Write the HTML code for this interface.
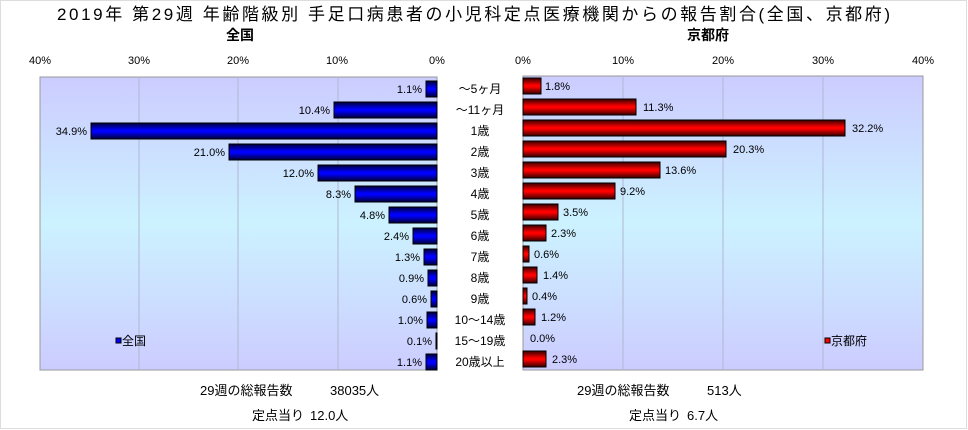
<!DOCTYPE html>
<html><head><meta charset="utf-8"><style>
html,body{margin:0;padding:0;background:#fff;}
svg{display:block;font-family:"Liberation Sans","Noto Sans CJK JP",sans-serif;}
</style></head><body>
<svg width="968" height="430" viewBox="0 0 968 430" xmlns="http://www.w3.org/2000/svg">
<defs>
<linearGradient id="bg" x1="0" y1="0" x2="0" y2="1">
<stop offset="0" stop-color="#ccccff"/><stop offset="0.5" stop-color="#ccf2ff"/><stop offset="1" stop-color="#ccccff"/>
</linearGradient>
<linearGradient id="bl" x1="0" y1="0" x2="0" y2="1">
<stop offset="0" stop-color="#000033"/><stop offset="0.45" stop-color="#0000ff"/><stop offset="0.55" stop-color="#0000ff"/><stop offset="1" stop-color="#000033"/>
</linearGradient>
<linearGradient id="rd" x1="0" y1="0" x2="0" y2="1">
<stop offset="0" stop-color="#330000"/><stop offset="0.45" stop-color="#ff0000"/><stop offset="0.55" stop-color="#ff0000"/><stop offset="1" stop-color="#330000"/>
</linearGradient>
</defs>
<rect x="0.5" y="0.5" width="966" height="428" fill="#fff" stroke="#ddd"/>
<text x="57" y="20" font-size="17" textLength="833" lengthAdjust="spacing">2019年 第29週 年齢階級別 手足口病患者の小児科定点医療機関からの報告割合(全国、京都府)</text>
<text x="240" y="40" font-size="14" text-anchor="middle" font-weight="bold">全国</text>
<text x="708" y="40" font-size="14" text-anchor="middle" font-weight="bold">京都府</text>
<g font-size="11" text-anchor="middle">
<text x="40" y="64">40%</text><text x="139" y="64">30%</text><text x="238" y="64">20%</text><text x="337" y="64">10%</text><text x="437" y="64">0%</text>
<text x="523" y="64">0%</text><text x="623" y="64">10%</text><text x="723" y="64">20%</text><text x="823" y="64">30%</text><text x="923" y="64">40%</text>
</g>
<rect x="40" y="77" width="397" height="293" fill="url(#bg)" stroke="#999"/>
<rect x="523" y="76" width="400" height="294" fill="url(#bg)" stroke="#999"/>
<g stroke="#b0b8d0" stroke-width="1">
<line x1="139" y1="77" x2="139" y2="370"/><line x1="238" y1="77" x2="238" y2="370"/><line x1="338" y1="77" x2="338" y2="370"/>
<line x1="623" y1="76" x2="623" y2="370"/><line x1="723" y1="76" x2="723" y2="370"/><line x1="823" y1="76" x2="823" y2="370"/>
</g>
<g font-size="12">
<rect x="116" y="338" width="5" height="5" fill="#00f" stroke="#000"/><text x="122" y="345">全国</text>
<rect x="825" y="338" width="5" height="5" fill="#f00" stroke="#000"/><text x="831" y="345">京都府</text>
</g>
<g font-size="13">
<text x="200" y="395">29週の総報告数</text><text x="330" y="395">38035人</text>
<text x="252" y="420">定点当り</text><text x="310" y="420">12.0人</text>
<text x="577" y="395">29週の総報告数</text><text x="707" y="395">513人</text>
<text x="629" y="420">定点当り</text><text x="687" y="420">6.7人</text>
</g>
<g font-size="12" text-anchor="middle">
<text x="480" y="93">～5ヶ月</text><text x="480" y="114">～11ヶ月</text><text x="480" y="135">1歳</text><text x="480" y="156">2歳</text><text x="480" y="177">3歳</text><text x="480" y="198">4歳</text><text x="480" y="219">5歳</text><text x="480" y="240">6歳</text><text x="480" y="261">7歳</text><text x="480" y="282">8歳</text><text x="480" y="303">9歳</text><text x="480" y="324">10～14歳</text><text x="480" y="345">15～19歳</text><text x="480" y="366">20歳以上</text>
</g>
<g font-size="11">
<rect x="426" y="81" width="11" height="16" fill="url(#bl)" stroke="#000"/><text x="422" y="93" text-anchor="end">1.1%</text>
<rect x="334" y="102" width="103" height="16" fill="url(#bl)" stroke="#000"/><text x="330" y="114" text-anchor="end">10.4%</text>
<rect x="91" y="123" width="346" height="16" fill="url(#bl)" stroke="#000"/><text x="87" y="135" text-anchor="end">34.9%</text>
<rect x="229" y="144" width="208" height="16" fill="url(#bl)" stroke="#000"/><text x="225" y="156" text-anchor="end">21.0%</text>
<rect x="318" y="165" width="119" height="16" fill="url(#bl)" stroke="#000"/><text x="314" y="177" text-anchor="end">12.0%</text>
<rect x="355" y="186" width="82" height="16" fill="url(#bl)" stroke="#000"/><text x="351" y="198" text-anchor="end">8.3%</text>
<rect x="389" y="207" width="48" height="16" fill="url(#bl)" stroke="#000"/><text x="385" y="219" text-anchor="end">4.8%</text>
<rect x="413" y="228" width="24" height="16" fill="url(#bl)" stroke="#000"/><text x="409" y="240" text-anchor="end">2.4%</text>
<rect x="424" y="249" width="13" height="16" fill="url(#bl)" stroke="#000"/><text x="420" y="261" text-anchor="end">1.3%</text>
<rect x="428" y="270" width="9" height="16" fill="url(#bl)" stroke="#000"/><text x="424" y="282" text-anchor="end">0.9%</text>
<rect x="431" y="291" width="6" height="16" fill="url(#bl)" stroke="#000"/><text x="427" y="303" text-anchor="end">0.6%</text>
<rect x="427" y="312" width="10" height="16" fill="url(#bl)" stroke="#000"/><text x="423" y="324" text-anchor="end">1.0%</text>
<rect x="436" y="333" width="1" height="16" fill="url(#bl)" stroke="#000"/><text x="432" y="345" text-anchor="end">0.1%</text>
<rect x="426" y="354" width="11" height="16" fill="url(#bl)" stroke="#000"/><text x="422" y="366" text-anchor="end">1.1%</text>

<rect x="523" y="78" width="18" height="16" fill="url(#rd)" stroke="#000"/><text x="545" y="90">1.8%</text>
<rect x="523" y="99" width="113" height="16" fill="url(#rd)" stroke="#000"/><text x="643" y="111">11.3%</text>
<rect x="523" y="120" width="322" height="16" fill="url(#rd)" stroke="#000"/><text x="852" y="132">32.2%</text>
<rect x="523" y="141" width="203" height="16" fill="url(#rd)" stroke="#000"/><text x="733" y="153">20.3%</text>
<rect x="523" y="162" width="137" height="16" fill="url(#rd)" stroke="#000"/><text x="665" y="174">13.6%</text>
<rect x="523" y="183" width="92" height="16" fill="url(#rd)" stroke="#000"/><text x="620" y="195">9.2%</text>
<rect x="523" y="204" width="35" height="16" fill="url(#rd)" stroke="#000"/><text x="563" y="216">3.5%</text>
<rect x="523" y="225" width="23" height="16" fill="url(#rd)" stroke="#000"/><text x="551" y="237">2.3%</text>
<rect x="523" y="246" width="6" height="16" fill="url(#rd)" stroke="#000"/><text x="534" y="258">0.6%</text>
<rect x="523" y="267" width="14" height="16" fill="url(#rd)" stroke="#000"/><text x="543" y="279">1.4%</text>
<rect x="523" y="288" width="4" height="16" fill="url(#rd)" stroke="#000"/><text x="532" y="300">0.4%</text>
<rect x="523" y="309" width="12" height="16" fill="url(#rd)" stroke="#000"/><text x="541" y="321">1.2%</text>
<text x="530" y="342">0.0%</text>
<rect x="523" y="351" width="23" height="16" fill="url(#rd)" stroke="#000"/><text x="552" y="363">2.3%</text>
</g>
</svg>
</body></html>
